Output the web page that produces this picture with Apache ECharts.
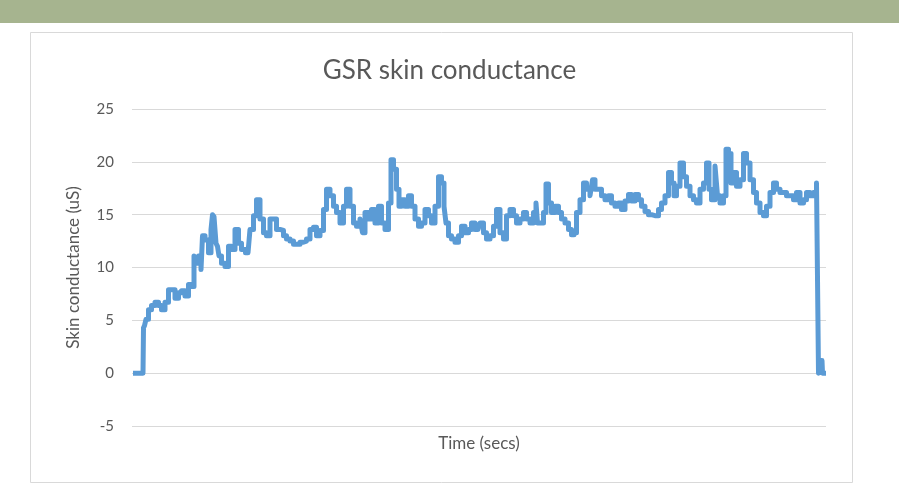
<!DOCTYPE html>
<html>
<head>
<meta charset="utf-8">
<script src="https://cdn.jsdelivr.net/npm/echarts@6/dist/echarts.min.js"></script>
<style>
  html, body { margin: 0; padding: 0; background: #fff; }
  #chart { width: 899px; height: 502px; }
</style>
</head>
<body>
<div id="chart"></div>
<script>
// 数据 (时间, 皮肤电导)
var timeSecs = [
  0, 10, 11, 12, 14, 17, 20, 24, 27, 30, 34, 37, 40, 44, 47, 50, 54, 57, 60, 62, 64, 67, 69, 70, 74, 77, 79, 80, 82, 84, 85, 87, 90, 94, 97, 100, 104, 107, 110,
  115, 119, 122, 125, 129, 132, 135, 139, 142, 145, 149, 152, 155, 159, 162, 165, 169, 172, 175, 179, 182, 185, 189, 192, 195, 199, 202, 205, 209, 212, 215, 219, 222, 225, 229,
  230, 234, 237, 240, 244, 247, 250, 254, 257, 259, 262, 265, 267, 270, 274, 277, 280, 284, 287, 290, 294, 297, 300, 304, 307, 310, 312, 314, 317, 320, 324, 327, 330, 334, 337, 340, 344,
  345, 349, 352, 355, 359, 362, 365, 369, 372, 375, 379, 382, 385, 389, 392, 395, 399, 402, 404, 405, 409, 412, 414, 417, 420, 424, 427, 430, 434, 437, 440, 442, 445, 449, 452, 455, 459,
  460, 464, 467, 470, 474, 477, 480, 484, 487, 490, 494, 497, 500, 504, 507, 510, 514, 517, 520, 524, 527, 530, 534, 537, 540, 542, 545, 549, 552, 555, 559, 562, 565, 569, 572, 575,
  577, 580, 584, 585, 589, 592, 594, 597, 599, 602, 605, 609, 612, 615, 619, 622, 625, 629, 632, 635, 639, 642, 645, 649, 652, 655, 659, 662, 665, 669, 672, 675, 679, 682, 685,
  686, 687, 689, 690, 693
];
var conductance = [
  0, 0, 4.3, 4.5, 5.1, 6.0, 6.4, 6.7, 6.4, 6.0, 6.7, 7.9, 7.9, 7.1, 7.6, 7.8, 7.3, 8.4, 8.2, 11.1, 10.4, 11.1, 9.8, 13.0, 12.6, 11.4, 13.6, 15.0, 14.8, 12.3, 12.0, 11.1, 10.4, 10.1, 12.0, 11.7, 13.6, 12.3, 11.7,
  11.4, 13.6, 14.9, 16.4, 14.6, 13.3, 13.0, 14.6, 14.6, 13.6, 13.5, 13.0, 12.7, 12.5, 12.2, 12.2, 12.4, 12.5, 12.7, 13.6, 13.8, 13.0, 13.5, 15.5, 17.4, 16.8, 15.8, 15.2, 14.2, 15.8, 17.4, 15.8, 14.2, 13.9, 14.6,
  13.3, 15.2, 14.6, 15.5, 14.2, 15.8, 14.2, 13.6, 16.1, 20.2, 19.3, 17.4, 15.8, 16.4, 15.8, 16.8, 15.8, 14.6, 13.9, 14.2, 15.5, 14.9, 14.2, 15.8, 18.6, 18.0, 15.8, 14.2, 13.0, 12.7, 12.4, 13.0, 13.9, 13.3, 13.6, 14.2, 13.6,
  13.6, 14.2, 13.3, 12.7, 13.0, 13.9, 15.5, 13.3, 12.7, 14.9, 15.5, 14.9, 14.2, 14.6, 15.2, 14.6, 14.2, 15.2, 16.1, 14.2, 14.2, 15.2, 17.9, 16.1, 15.2, 15.8, 15.2, 14.6, 14.2, 13.6, 13.1, 13.3, 15.2, 16.4, 18.0, 17.4, 16.8,
  18.3, 17.4, 17.4, 16.8, 16.4, 16.8, 16.1, 15.8, 16.1, 15.5, 16.3, 16.9, 16.3, 16.9, 16.4, 15.8, 15.3, 15.0, 14.9, 14.9, 15.5, 16.1, 16.8, 19.0, 18.0, 16.8, 17.7, 19.9, 18.6, 17.7, 16.8, 16.4, 16.1, 17.4, 18.0, 19.9,
  17.4, 16.4, 19.6, 16.8, 16.1, 16.8, 21.2, 20.8, 18.0, 19.0, 17.7, 18.3, 20.8, 19.9, 18.3, 17.1, 16.1, 15.2, 14.9, 15.8, 17.1, 18.0, 17.4, 17.1, 17.1, 16.8, 16.8, 16.4, 17.1, 16.1, 16.4, 17.1, 16.8, 17.1, 18.0,
  0, 1.2, 1.2, 0, 0
];
var yTicks = [-5, 0, 5, 10, 15, 20, 25];

var points = [];
for (var i = 0; i < timeSecs.length; i++) {
    points.push([timeSecs[i], conductance[i]]);
}

var echart = echarts.init(document.getElementById('chart'));
var fontFamily = 'Lato';
var option = {
    backgroundColor: '#fff',
    title: {
        text: 'GSR skin conductance',
        left: 'center',
        top: 53,
        textStyle: {
            fontFamily: fontFamily,
            fontSize: 26,
            fontWeight: 'normal',
            color: '#595959'
        }
    },
    graphic: [
        {
            type: 'rect',
            shape: { x: 0, y: 0, width: 899, height: 23 },
            style: { fill: '#a6b48f' }
        },
        {
            type: 'rect',
            shape: { x: 30.5, y: 32.5, width: 822, height: 450 },
            style: { fill: 'none', stroke: '#d9d9d9', lineWidth: 1 }
        }
    ],
    grid: {
        left: 132,
        right: 73,
        top: 109,
        bottom: 76
    },
    xAxis: {
        type: 'value',
        min: -1,
        max: 693,
        name: 'Time (secs)',
        nameLocation: 'middle',
        nameGap: 9,
        nameTextStyle: { fontFamily: fontFamily, fontSize: 17, color: '#595959' },
        axisLine: { show: false },
        axisTick: { show: false },
        axisLabel: { show: false },
        splitLine: { show: false }
    },
    yAxis: {
        type: 'value',
        min: yTicks[0],
        max: yTicks[yTicks.length - 1],
        interval: 5,
        name: 'Skin conductance (uS)',
        nameLocation: 'middle',
        nameRotate: 90,
        nameGap: 50,
        nameTextStyle: { fontFamily: fontFamily, fontSize: 17, color: '#595959' },
        axisLine: { show: false },
        axisTick: { show: false },
        axisLabel: { fontFamily: fontFamily, fontSize: 15, color: '#595959', margin: 18 },
        splitLine: { lineStyle: { color: '#d9d9d9', width: 1 } }
    },
    series: [{
        name: 'GSR',
        type: 'line',
        data: points,
        symbol: 'none',
        step: 'middle',
        lineStyle: { color: '#5b9bd5', width: 5, join: 'round' },
        animation: false
    }]
};
echart.setOption(option);
</script>
</body>
</html>
